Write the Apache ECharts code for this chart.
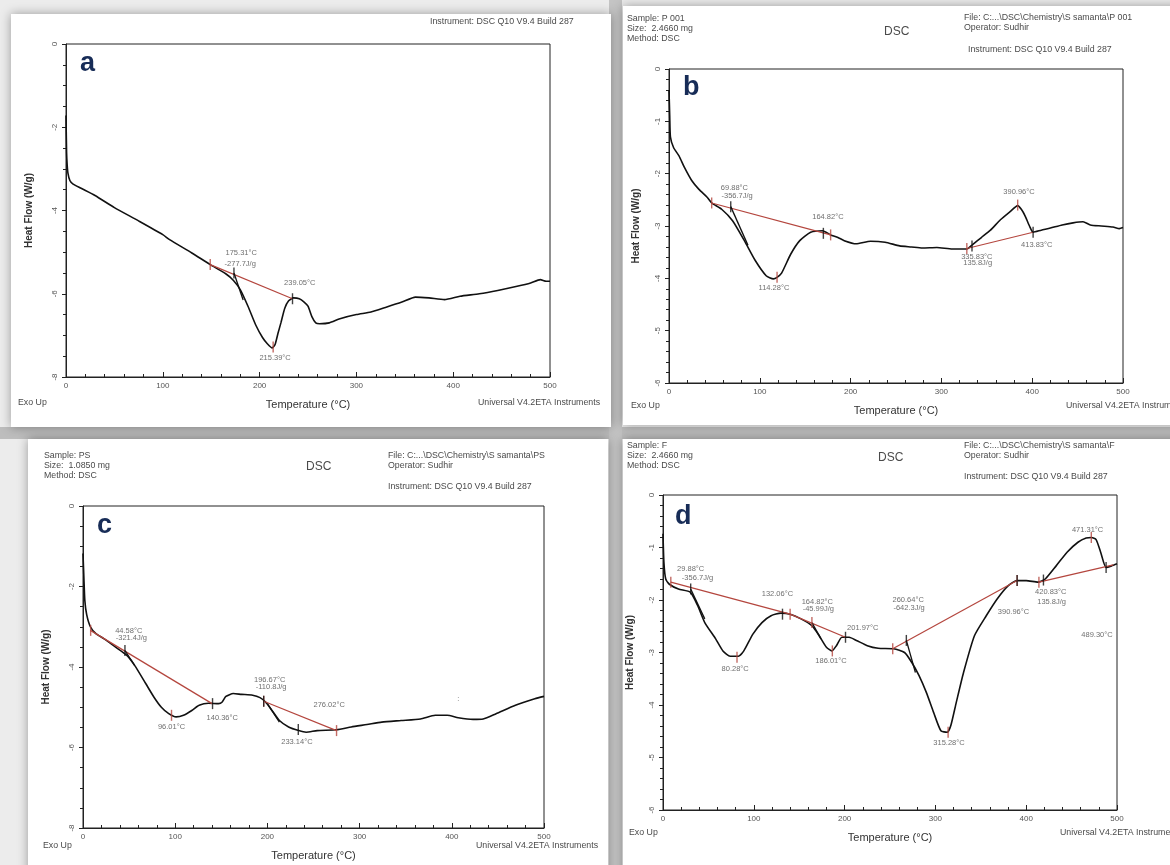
<!DOCTYPE html>
<html>
<head>
<meta charset="utf-8">
<style>
html,body{margin:0;padding:0;background:#fff}
#main{width:1170px;height:865px}
</style>
<script src="https://cdn.jsdelivr.net/npm/echarts@6.0.0/dist/echarts.min.js"></script>
</head>
<body>
<div id="main"></div>
<script>
// DSC curves, [temperature °C, heat flow W/g]
var curveA = [[0,-1.72],[0.6,-2.6],[1.2,-2.9],[2,-3.1],[4,-3.28],[7,-3.36],[15,-3.46],[30,-3.64],[50,-3.93],[75,-4.25],[100,-4.58],[107,-4.7],[130,-5.02],[149,-5.3],[165,-5.52],[173,-5.68],[180,-5.9],[188,-6.3],[196,-6.75],[203,-7.05],[208,-7.2],[213,-7.3],[216,-7.22],[219,-6.95],[222,-6.7],[226,-6.35],[230,-6.17],[235,-6.1],[241,-6.12],[246,-6.2],[250,-6.3],[254,-6.55],[258,-6.7],[262,-6.72],[272,-6.7],[283,-6.6],[300,-6.5],[315,-6.44],[330,-6.33],[347,-6.2],[361,-6.08],[375,-6.1],[391,-6.14],[407,-6.06],[427,-6.0],[446,-5.92],[466,-5.82],[480,-5.74],[490,-5.66],[496,-5.7],[500,-5.7]];
var curveB = [[0,-0.4],[0.8,-0.9],[1.6,-1.3],[5,-1.5],[11,-1.66],[17,-1.88],[25,-2.13],[33,-2.3],[42,-2.45],[47,-2.56],[58,-2.68],[70,-2.9],[83,-3.28],[95,-3.66],[107,-3.95],[115,-4.01],[119,-3.98],[124,-3.9],[134,-3.54],[144,-3.28],[156,-3.12],[169,-3.09],[178,-3.17],[186,-3.22],[193,-3.28],[206,-3.34],[222,-3.29],[238,-3.31],[254,-3.38],[267,-3.4],[279,-3.42],[295,-3.41],[312,-3.44],[328,-3.44],[334,-3.36],[344,-3.22],[354,-3.08],[365,-2.88],[376,-2.72],[384,-2.61],[388,-2.68],[392,-2.8],[397,-3.0],[401,-3.12],[410,-3.08],[420,-3.04],[433,-2.98],[445,-2.94],[456,-2.92],[464,-2.98],[476,-3.0],[489,-3.02],[496,-3.05],[500,-3.03]];
var curveC = [[0,-1.18],[1,-1.8],[2,-2.35],[4,-2.7],[8,-3.0],[14,-3.17],[23,-3.3],[35,-3.5],[47,-3.7],[56,-3.96],[68,-4.41],[77,-4.75],[85,-5.0],[93,-5.16],[101,-5.24],[109,-5.2],[118,-5.08],[126,-4.95],[136,-4.9],[147,-4.91],[151,-4.87],[155,-4.73],[163,-4.66],[172,-4.68],[184,-4.7],[192,-4.76],[198,-4.87],[205,-5.08],[213,-5.33],[223,-5.49],[234,-5.58],[242,-5.62],[254,-5.58],[275,-5.56],[291,-5.49],[308,-5.43],[324,-5.37],[345,-5.33],[366,-5.29],[382,-5.2],[395,-5.2],[407,-5.26],[423,-5.3],[434,-5.29],[448,-5.16],[469,-4.95],[490,-4.79],[500,-4.73]];
var curveD = [[0,-0.74],[1,-1.28],[3,-1.6],[7,-1.7],[17,-1.79],[30,-1.85],[38,-2.1],[46,-2.43],[58,-2.74],[66,-2.97],[74,-3.07],[83,-3.07],[89,-2.97],[99,-2.65],[109,-2.43],[119,-2.3],[130,-2.25],[140,-2.27],[152,-2.36],[164,-2.49],[172,-2.68],[180,-2.9],[186,-2.97],[191,-2.87],[197,-2.71],[205,-2.71],[213,-2.77],[225,-2.87],[237,-2.92],[254,-2.93],[266,-3.0],[274,-3.19],[282,-3.44],[290,-3.76],[298,-4.14],[306,-4.49],[313,-4.52],[317,-4.39],[323,-3.95],[331,-3.38],[343,-2.68],[356,-2.3],[368,-1.98],[380,-1.73],[390,-1.63],[400,-1.63],[413,-1.66],[421,-1.6],[433,-1.35],[445,-1.09],[457,-0.9],[466,-0.82],[472,-0.81],[477,-0.85],[482,-1.09],[488,-1.38],[494,-1.35],[500,-1.31]];

// integration baselines (red) and onset tangents (black)
var basesA = [[[149,-5.3],[234,-6.12]]];
var basesB = [[[47,-2.56],[178,-3.17]], [[328,-3.43],[401,-3.12]]];
var basesC = [[[8,-3.09],[140,-4.91]], [[196,-4.85],[275,-5.58]]];
var basesD = [[[8.6,-1.66],[140,-2.27]], [[140,-2.27],[201,-2.71]], [[253,-2.93],[390,-1.63]], [[414,-1.66],[496,-1.33]]];
var tangentsA = [[[173.5,-5.5],[183,-6.15]]];
var tangentsB = [[[68,-2.63],[87,-3.37]]];
var tangentsC = [[[45.5,-3.59],[56,-3.96]], [[200,-4.91],[213,-5.37]]];
var tangentsD = [[[30.5,-1.79],[46,-2.36]], [[164,-2.43],[174,-2.74]], [[268,-2.77],[278,-3.38]]];

// cursor marks on the curves
var redTicksA = [[149,-5.3],[214,-7.28]];
var blackTicksA = [[173.5,-5.5],[234,-6.12]];
var redTicksB = [[47,-2.56],[178,-3.17],[119,-3.98],[384,-2.6],[328,-3.43]];
var blackTicksB = [[68,-2.63],[170,-3.14],[333.7,-3.38],[401,-3.12]];
var redTicksC = [[8.3,-3.09],[96,-5.2],[196,-4.85],[275,-5.58]];
var blackTicksC = [[45.5,-3.59],[140.5,-4.91],[196,-4.85],[233.5,-5.55]];
var redTicksD = [[8.6,-1.66],[140,-2.27],[164,-2.43],[186.5,-2.97],[81.5,-3.09],[253,-2.93],[390,-1.63],[414,-1.66],[471.7,-0.81],[314,-4.52]];
var blackTicksD = [[30.5,-1.79],[131.6,-2.27],[201,-2.71],[268,-2.77],[390,-1.63],[419,-1.62],[488,-1.38]];

// annotation texts [x, y, text]
var notesA = [[181,-5.02,'175.31°C'],[180,-5.29,'-277.7J/g'],[241.5,-5.75,'239.05°C'],[216,-7.55,'215.39°C']];
var notesB = [[72,-2.28,'69.88°C'],[75,-2.43,'-356.7J/g'],[175,-2.83,'164.82°C'],[115.6,-4.19,'114.28°C'],[385.5,-2.35,'390.96°C'],[405,-3.37,'413.83°C'],[339,-3.59,'335.83°C'],[340,-3.71,'135.8J/g']];
var notesC = [[49.6,-3.1,'44.58°C'],[52.5,-3.29,'-321.4J/g'],[96,-5.49,'96.01°C'],[151,-5.27,'140.36°C'],[202.5,-4.31,'196.67°C'],[204,-4.5,'-110.8J/g'],[267,-4.95,'276.02°C'],[232,-5.87,'233.14°C'],[407,-4.79,':']];
var notesD = [[30.5,-1.41,'29.88°C'],[38,-1.58,'-356.7J/g'],[126,-1.89,'132.06°C'],[170,-2.04,'164.82°C'],[171,-2.17,'-45.99J/g'],[220,-2.54,'201.97°C'],[79.5,-3.31,'80.28°C'],[185,-3.16,'186.01°C'],[270,-2.0,'260.64°C'],[271,-2.15,'-642.3J/g'],[315,-4.72,'315.28°C'],[386,-2.23,'390.96°C'],[427,-1.84,'420.83°C'],[428,-2.03,'135.8J/g'],[467.6,-0.66,'471.31°C'],[478,-2.67,'489.30°C']];

var tempTicks = [0, 100, 200, 300, 400, 500];
var flowMinA = -8, flowStepA = 2;
var flowMinB = -6, flowStepB = 1;
var flowMinC = -8, flowStepC = 2;
var flowMinD = -6, flowStepD = 1;

var FONT = 'Liberation Sans';
var RED = '#b4463e';
var GREY = '#4a4a4a';

var panels = [
  {grid: {left: 66, top: 44, width: 484, height: 333}, min: flowMinA, step: flowStepA, minor: 4, curve: curveA, bases: basesA, tangents: tangentsA, red: redTicksA, black: blackTicksA, notes: notesA, nameGap: 32},
  {grid: {left: 669, top: 69, width: 454, height: 314}, min: flowMinB, step: flowStepB, minor: 5, curve: curveB, bases: basesB, tangents: tangentsB, red: redTicksB, black: blackTicksB, notes: notesB, nameGap: 28},
  {grid: {left: 83, top: 506, width: 461, height: 322}, min: flowMinC, step: flowStepC, minor: 4, curve: curveC, bases: basesC, tangents: tangentsC, red: redTicksC, black: blackTicksC, notes: notesC, nameGap: 32},
  {grid: {left: 663, top: 495, width: 454, height: 315}, min: flowMinD, step: flowStepD, minor: 5, curve: curveD, bases: basesD, tangents: tangentsD, red: redTicksD, black: blackTicksD, notes: notesD, nameGap: 28}
];

var grids = [], xAxes = [], yAxes = [], series = [];
panels.forEach(function(p, i){
  grids.push(Object.assign({show: true, borderColor: '#222', borderWidth: 1, backgroundColor: 'transparent'}, p.grid));
  xAxes.push({
    gridIndex: i, type: 'value', min: tempTicks[0], max: tempTicks[tempTicks.length - 1],
    interval: tempTicks[1] - tempTicks[0],
    name: 'Temperature (°C)', nameLocation: 'middle', nameGap: 22,
    nameTextStyle: {fontFamily: FONT, fontSize: 11, color: '#333'},
    axisLine: {onZero: false, lineStyle: {color: '#222', width: 1}},
    axisTick: {inside: true, length: 5, lineStyle: {color: '#222'}},
    minorTick: {show: true, splitNumber: 5, length: 3, lineStyle: {color: '#222'}},
    splitLine: {show: false},
    axisLabel: {fontFamily: FONT, fontSize: 8, color: '#555', margin: 5}
  });
  yAxes.push({
    gridIndex: i, type: 'value', min: p.min, max: 0, interval: p.step,
    name: 'Heat Flow (W/g)', nameLocation: 'middle', nameGap: p.nameGap,
    nameTextStyle: {fontFamily: FONT, fontSize: 10, fontWeight: 'bold', color: '#333'},
    axisLine: {show: true, onZero: false, lineStyle: {color: '#222', width: 1}},
    axisTick: {show: true, length: 4, lineStyle: {color: '#222'}},
    minorTick: {show: true, splitNumber: p.minor, length: 3, lineStyle: {color: '#222'}},
    splitLine: {show: false},
    axisLabel: {fontFamily: FONT, fontSize: 8, color: '#555', rotate: 90, margin: 7}
  });
  series.push({type: 'line', xAxisIndex: i, yAxisIndex: i, data: p.curve, symbol: 'none', smooth: 0.2,
    lineStyle: {color: '#111', width: 1.6}, z: 3, silent: true});
  p.bases.forEach(function(b){
    series.push({type: 'line', xAxisIndex: i, yAxisIndex: i, data: b, symbol: 'none',
      lineStyle: {color: RED, width: 1.2}, z: 4, silent: true});
  });
  p.tangents.forEach(function(t){
    series.push({type: 'line', xAxisIndex: i, yAxisIndex: i, data: t, symbol: 'none',
      lineStyle: {color: '#111', width: 1.3}, z: 4, silent: true});
  });
  series.push({type: 'scatter', xAxisIndex: i, yAxisIndex: i, data: p.red, symbol: 'rect',
    symbolSize: [1.4, 11], itemStyle: {color: RED}, z: 5, silent: true});
  series.push({type: 'scatter', xAxisIndex: i, yAxisIndex: i, data: p.black, symbol: 'rect',
    symbolSize: [1.4, 11], itemStyle: {color: '#111'}, z: 6, silent: true});
  series.push({type: 'scatter', xAxisIndex: i, yAxisIndex: i, data: p.notes, symbolSize: 0,
    encode: {x: 0, y: 1}, z: 7, silent: true,
    label: {show: true, position: 'inside', fontFamily: FONT, fontSize: 7.5, color: GREY,
      formatter: function(d){ return d.value[2]; }}});
});

function txt(left, top, text, size, extra){
  return {type: 'text', left: left, top: top, z: 10,
    style: Object.assign({text: text, font: (size || 8.8) + 'px "' + FONT + '"', fill: GREY}, extra || {})};
}
function card(x, y, w, h){
  return {type: 'rect', z: -8, shape: {x: x, y: y, width: w, height: h},
    style: {fill: '#fff', shadowBlur: 10, shadowColor: 'rgba(0,0,0,0.35)'}};
}
function letter(left, top, ch){
  return {type: 'text', left: left, top: top, z: 10,
    style: {text: ch, font: 'bold 27px "' + FONT + '"', fill: '#172c57'}};
}

var graphics = [
  {type: 'rect', z: -10, shape: {x: 0, y: 0, width: 1170, height: 865}, style: {fill: '#ececec'}},
  {type: 'rect', z: -9, shape: {x: 0, y: 427, width: 1170, height: 12}, style: {fill: '#bdbdbd'}},
  {type: 'rect', z: -9, shape: {x: 609, y: 0, width: 13, height: 865}, style: {fill: '#c4c4c4'}},
  card(11, 14, 600, 413),
  card(623, 6, 560, 419),
  card(28, 439, 580, 440),
  card(623, 439, 560, 440),
  // panel a
  letter(80, 50, 'a'),
  txt(430, 17, 'Instrument: DSC Q10 V9.4 Build 287'),
  txt(18, 398, 'Exo Up'),
  txt(478, 398, 'Universal V4.2ETA Instruments'),
  // panel b
  letter(683, 74, 'b'),
  txt(627, 14, 'Sample: P 001'),
  txt(627, 24, 'Size:  2.4660 mg'),
  txt(627, 34, 'Method: DSC'),
  txt(884, 26, 'DSC', 12),
  txt(964, 13, 'File: C:...\\DSC\\Chemistry\\S samanta\\P 001'),
  txt(964, 23, 'Operator: Sudhir'),
  txt(968, 45, 'Instrument: DSC Q10 V9.4 Build 287'),
  txt(631, 401, 'Exo Up'),
  txt(1066, 401, 'Universal V4.2ETA Instruments'),
  // panel c
  letter(97, 512, 'c'),
  txt(44, 451, 'Sample: PS'),
  txt(44, 461, 'Size:  1.0850 mg'),
  txt(44, 471, 'Method: DSC'),
  txt(306, 461, 'DSC', 12),
  txt(388, 451, 'File: C:...\\DSC\\Chemistry\\S samanta\\PS'),
  txt(388, 461, 'Operator: Sudhir'),
  txt(388, 482, 'Instrument: DSC Q10 V9.4 Build 287'),
  txt(43, 841, 'Exo Up'),
  txt(476, 841, 'Universal V4.2ETA Instruments'),
  // panel d
  letter(675, 503, 'd'),
  txt(627, 441, 'Sample: F'),
  txt(627, 451, 'Size:  2.4660 mg'),
  txt(627, 461, 'Method: DSC'),
  txt(878, 452, 'DSC', 12),
  txt(964, 441, 'File: C:...\\DSC\\Chemistry\\S samanta\\F'),
  txt(964, 451, 'Operator: Sudhir'),
  txt(964, 472, 'Instrument: DSC Q10 V9.4 Build 287'),
  txt(629, 828, 'Exo Up'),
  txt(1060, 828, 'Universal V4.2ETA Instruments')
];

var chart = echarts.init(document.getElementById('main'));
chart.setOption({
  backgroundColor: '#fff',
  animation: false,
  textStyle: {fontFamily: FONT},
  grid: grids,
  xAxis: xAxes,
  yAxis: yAxes,
  series: series,
  graphic: graphics
});
</script>
</body>
</html>
